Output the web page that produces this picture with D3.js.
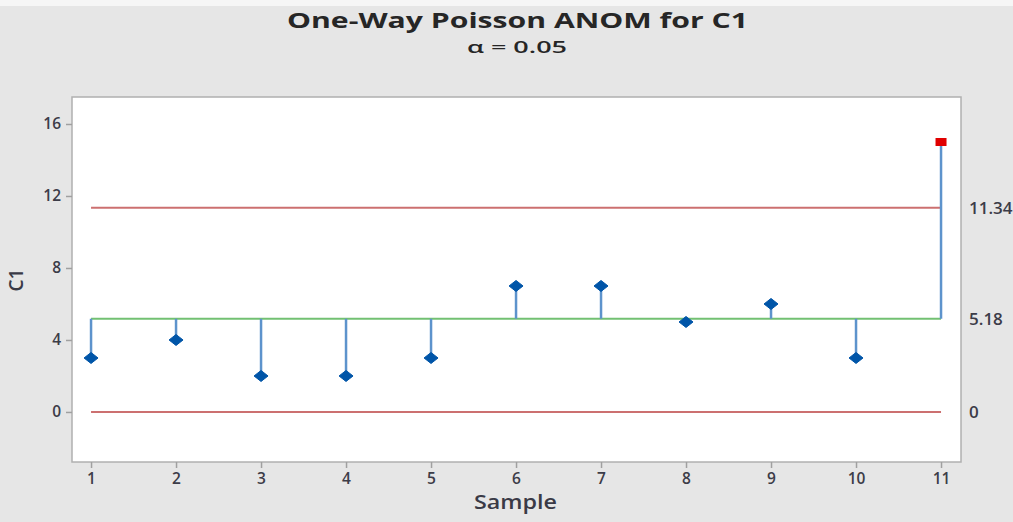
<!DOCTYPE html>
<html><head><meta charset="utf-8">
<script src="https://cdn.jsdelivr.net/npm/d3@7"></script>
<style>
html,body{margin:0;padding:0;background:#e6e6e6;overflow:hidden}
text{font-family:"Open Sans","Noto Sans",sans-serif}
</style></head>
<body>
<svg id="c" width="1013" height="522"></svg>
<script>
const samples = [1,2,3,4,5,6,7,8,9,10,11];
const values = [3,4,2,2,3,7,7,5,6,3,15];
const centerLine = 5.18;
const upperLimit = 11.34;
const lowerLimit = 0;
const yTicks = [0,4,8,12,16];
const limitLabels = ["11.34","5.18","0"];

const svg = d3.select("#c");
const L=72, T=97, R=961, B=462;
const x = d3.scaleLinear().domain([0.776, 11.235]).range([L, R]);
const y = d3.scaleLinear().domain([-2.78, 17.5]).range([B, T]);

svg.append("rect").attr("width",1013).attr("height",522).attr("fill","#e6e6e6");
svg.append("rect").attr("width",1013).attr("height",6).attr("fill","#f6f6f6");
svg.append("rect").attr("x",L).attr("y",T).attr("width",R-L).attr("height",B-T)
  .attr("fill","#fff").attr("stroke","#b0b0b0").attr("stroke-width",1.5);

// axes
const ya = svg.append("g").attr("transform",`translate(${L},0)`)
  .call(d3.axisLeft(y).tickValues(yTicks).tickSize(6).tickPadding(5));
const xa = svg.append("g").attr("transform",`translate(0,${B})`)
  .call(d3.axisBottom(x).tickValues(samples).tickSize(6).tickPadding(4));
[ya,xa].forEach(a=>{
  a.select(".domain").remove();
  a.selectAll(".tick line").attr("stroke","#a0a0a0").attr("stroke-width",1.5);
  a.selectAll(".tick text").attr("fill","#3c3c48").attr("font-size",15.5).attr("font-weight",600);
});
xa.selectAll(".tick text").attr("dy","0.8em");

const x0 = x(samples[0]), x1 = x(samples[samples.length-1]);
// limit lines
[upperLimit, lowerLimit].forEach(v=>{
  svg.append("line").attr("x1",x0).attr("x2",x1).attr("y1",y(v)).attr("y2",y(v))
    .attr("stroke","#cc7070").attr("stroke-width",2);
});
svg.append("line").attr("x1",x0).attr("x2",x1).attr("y1",y(centerLine)).attr("y2",y(centerLine))
  .attr("stroke","#72c072").attr("stroke-width",2);

// stems
svg.selectAll(".stem").data(values).join("line")
  .attr("x1",(d,i)=>x(samples[i])).attr("x2",(d,i)=>x(samples[i]))
  .attr("y1",y(centerLine)).attr("y2",d=>y(d))
  .attr("stroke","#5d93cc").attr("stroke-width",2.5);

// markers
values.forEach((d,i)=>{
  const cx=x(samples[i]), cy=y(d);
  if(d>upperLimit || d<lowerLimit){
    svg.append("rect").attr("x",cx-5.5).attr("y",cy-4).attr("width",11).attr("height",8).attr("fill","#e00000");
  } else {
    svg.append("path").attr("d",`M${cx-7},${cy}L${cx},${cy-5.5}L${cx+7},${cy}L${cx},${cy+5.5}Z`)
      .attr("fill","#0055a8").attr("stroke","#0055a8").attr("stroke-width",1).attr("stroke-linejoin","round");
  }
});

// right labels
[upperLimit, centerLine, lowerLimit].forEach((v,i)=>{
  svg.append("text").attr("x",969).attr("y",y(v)+6).attr("font-size",17).attr("font-weight",600)
    .attr("fill","#3c3c48").text(limitLabels[i]);
});

// titles
svg.append("text").attr("x",287).attr("y",28).attr("font-size",22)
  .attr("textLength",461).attr("lengthAdjust","spacingAndGlyphs")
  .attr("font-weight",700).attr("fill","#262626").text("One-Way Poisson ANOM for C1");
svg.append("text").attr("x",467).attr("y",53).attr("font-size",17)
  .attr("textLength",100).attr("lengthAdjust","spacingAndGlyphs")
  .attr("font-weight",600).attr("fill","#262626").text("α = 0.05");
svg.append("text").attr("x",474).attr("y",509).attr("font-size",19)
  .attr("textLength",83).attr("lengthAdjust","spacingAndGlyphs")
  .attr("font-weight",600).attr("fill","#3a3a46").text("Sample");
svg.append("text").attr("transform","translate(23,280) rotate(-90)").attr("text-anchor","middle")
  .attr("font-size",19).attr("font-weight",600).attr("fill","#3a3a46").text("C1");
</script>
</body></html>
